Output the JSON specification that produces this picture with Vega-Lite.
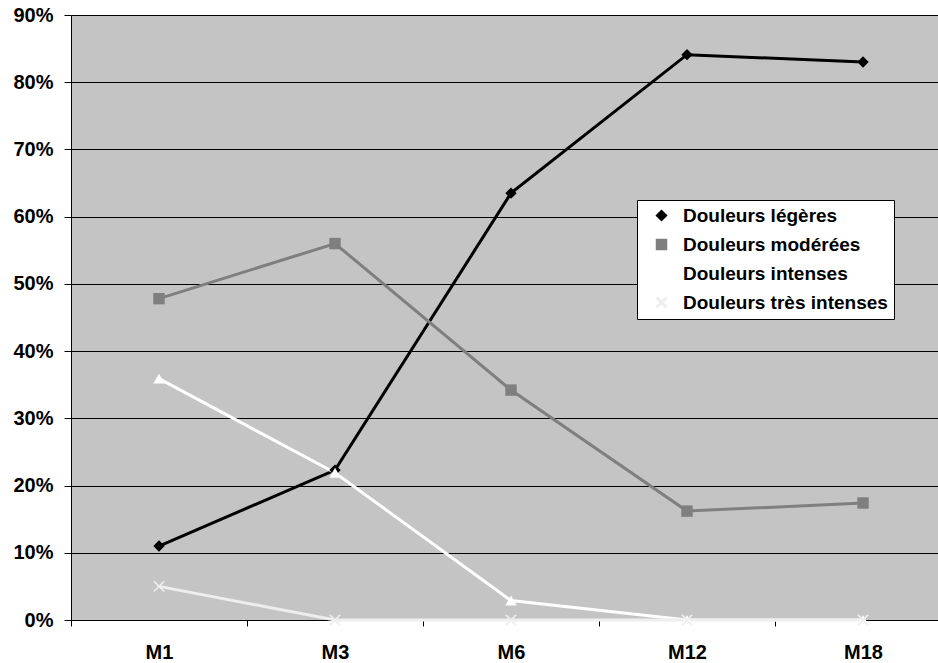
{
  "$schema": "https://vega.github.io/schema/vega-lite/v6.json",
  "width": 867,
  "height": 605,
  "autosize": {"type": "none"},
  "padding": {"left": 71, "top": 15, "right": 0, "bottom": 43},
  "background": "white",
  "config": {"view": {"fill": "#c4c4c4", "stroke": null}, "font": "Liberation Sans"},
  "data": {
    "values": [
      {"serie": "Douleurs légères", "mois": "M1", "valeur": 0.110},
      {"serie": "Douleurs légères", "mois": "M3", "valeur": 0.223},
      {"serie": "Douleurs légères", "mois": "M6", "valeur": 0.635},
      {"serie": "Douleurs légères", "mois": "M12", "valeur": 0.841},
      {"serie": "Douleurs légères", "mois": "M18", "valeur": 0.830},
      {"serie": "Douleurs modérées", "mois": "M1", "valeur": 0.478},
      {"serie": "Douleurs modérées", "mois": "M3", "valeur": 0.560},
      {"serie": "Douleurs modérées", "mois": "M6", "valeur": 0.342},
      {"serie": "Douleurs modérées", "mois": "M12", "valeur": 0.162},
      {"serie": "Douleurs modérées", "mois": "M18", "valeur": 0.174},
      {"serie": "Douleurs intenses", "mois": "M1", "valeur": 0.359},
      {"serie": "Douleurs intenses", "mois": "M3", "valeur": 0.219},
      {"serie": "Douleurs intenses", "mois": "M6", "valeur": 0.029},
      {"serie": "Douleurs intenses", "mois": "M12", "valeur": 0.0},
      {"serie": "Douleurs intenses", "mois": "M18", "valeur": 0.0},
      {"serie": "Douleurs très intenses", "mois": "M1", "valeur": 0.05},
      {"serie": "Douleurs très intenses", "mois": "M3", "valeur": 0.0},
      {"serie": "Douleurs très intenses", "mois": "M6", "valeur": 0.0},
      {"serie": "Douleurs très intenses", "mois": "M12", "valeur": 0.0},
      {"serie": "Douleurs très intenses", "mois": "M18", "valeur": 0.0}
    ]
  },
  "encoding": {
    "x": {
      "field": "mois",
      "type": "nominal",
      "sort": ["M1", "M3", "M6", "M12", "M18"],
      "scale": {"type": "band", "range": [0, 880], "paddingInner": 0, "paddingOuter": 0},
      "axis": {
        "title": null,
        "labelAngle": 0,
        "labelFont": "Liberation Sans",
        "labelFontWeight": "bold",
        "labelFontSize": 20,
        "labelColor": "black",
        "labelPadding": 16,
        "tickBand": "extent",
        "tickColor": "black",
        "tickSize": 6,
        "domainColor": "black",
        "domainWidth": 1,
        "grid": false
      }
    },
    "y": {
      "field": "valeur",
      "type": "quantitative",
      "scale": {"domain": [0, 0.9], "nice": false},
      "axis": {
        "title": null,
        "values": [0, 0.1, 0.2, 0.3, 0.4, 0.5, 0.6, 0.7, 0.8, 0.9],
        "format": ".0%",
        "labelFont": "Liberation Sans",
        "labelFontWeight": "bold",
        "labelFontSize": 20,
        "labelColor": "black",
        "labelPadding": 11,
        "tickColor": "black",
        "tickSize": 7,
        "domainColor": "black",
        "grid": true,
        "gridColor": "black",
        "gridWidth": 1,
        "gridOpacity": 1
      }
    },
    "color": {
      "field": "serie",
      "type": "nominal",
      "scale": {
        "domain": ["Douleurs légères", "Douleurs modérées", "Douleurs intenses", "Douleurs très intenses"],
        "range": ["#000000", "#7f7f7f", "#ffffff", "#eeeeee"]
      },
      "legend": {
        "title": null,
        "orient": "none",
        "legendX": 566,
        "legendY": 185,
        "fillColor": "white",
        "strokeColor": "black",
        "padding": 6,
        "labelFont": "Liberation Sans",
        "labelFontWeight": "bold",
        "labelFontSize": 19,
        "labelColor": "black",
        "labelLimit": 400,
        "labelOffset": 12,
        "symbolSize": 100,
        "symbolOffset": 9,
        "rowPadding": 9
      }
    }
  },
  "layer": [
    {
      "mark": {"type": "line", "strokeWidth": 3},
      "encoding": {}
    },
    {
      "mark": {"type": "point", "filled": true, "size": 130, "opacity": 1},
      "encoding": {
        "shape": {
          "field": "serie",
          "type": "nominal",
          "scale": {
            "domain": ["Douleurs légères", "Douleurs modérées", "Douleurs intenses", "Douleurs très intenses"],
            "range": ["diamond", "square", "triangle-up", "M-1,-0.8L-0.8,-1L0,-0.2L0.8,-1L1,-0.8L0.2,0L1,0.8L0.8,1L0,0.2L-0.8,1L-1,0.8L-0.2,0Z"]
          },
          "legend": {
            "title": null,
            "orient": "none",
            "legendX": 566,
            "legendY": 185,
            "fillColor": "white",
            "strokeColor": "black",
            "padding": 6,
            "labelFont": "Liberation Sans",
            "labelFontWeight": "bold",
            "labelFontSize": 19,
            "labelColor": "black",
            "labelLimit": 400,
            "labelOffset": 12,
            "symbolSize": 100,
            "symbolOffset": 9,
            "rowPadding": 9
          }
        }
      }
    }
  ]
}
